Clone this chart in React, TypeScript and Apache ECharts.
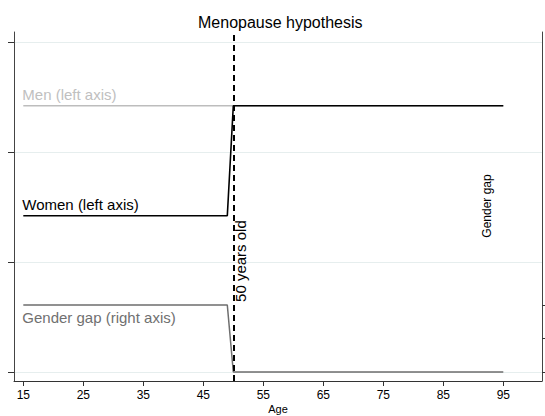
import React, { useEffect, useRef } from "react";
import * as echarts from "echarts";

const xTicks = [15, 25, 35, 45, 55, 65, 75, 85, 95];
const leftTicks = [0, 10, 20, 30];
const rightTicks = [0, 5, 10];

const womenAge = [15, 49, 50, 95];
const womenVal = [14.2, 14.2, 24.2, 24.2];
const menAge = [15, 95];
const menVal = [24.2, 24.2];
const gapAge = [15, 49, 50, 95];
const gapVal = [10, 10, 0, 0];

const cutoffAge = 50;

const FONT = "Liberation Sans, Arial, Helvetica, sans-serif";

const zip = (xs: number[], ys: number[]) => xs.map((x, i) => [x, ys[i]]);

export default function App() {
  const ref = useRef<HTMLDivElement>(null);
  useEffect(() => {
    if (!ref.current) return;
    const chart = echarts.init(ref.current, undefined, { renderer: "svg" });
    chart.setOption({
      animation: false,
      textStyle: { fontFamily: FONT },
      title: {
        text: "Menopause hypothesis",
        left: 193,
        top: 9,
        textStyle: { fontSize: 16, fontWeight: "normal", color: "#000", fontFamily: FONT },
      },
      grid: { left: 14, right: 3, top: 32, bottom: 35, containLabel: false, outerBoundsMode: "none" },
      xAxis: {
        type: "value",
        min: 13.45,
        max: 101.45,
        name: "Age",
        nameLocation: "middle",
        nameGap: 22,
        nameMoveOverlap: false,
        nameTextStyle: { fontSize: 11, color: "#000", fontFamily: FONT, lineHeight: 11, verticalAlign: "top" },
        axisLine: { show: true, onZero: false, lineStyle: { color: "#333", width: 1 } },
        axisTick: { show: true, length: 5, customValues: xTicks, lineStyle: { color: "#333" } },
        axisLabel: { show: true, customValues: xTicks, fontSize: 12, color: "#000", margin: 8, fontFamily: FONT },
        splitLine: { show: false },
      },
      yAxis: [
        {
          type: "value",
          position: "left",
          min: -0.82,
          max: 30.9,
          axisLine: { show: true, onZero: false, lineStyle: { color: "#444", width: 1 } },
          axisTick: { show: true, length: 6, customValues: leftTicks, lineStyle: { color: "#333" } },
          axisLabel: { show: false },
          splitLine: { show: true, lineStyle: { color: "#e6eeee", width: 1 } },
        },
        {
          type: "value",
          position: "right",
          min: -1.34,
          max: 50.7,
          axisLine: { show: true, onZero: false, lineStyle: { color: "#444", width: 1 } },
          axisTick: { show: true, length: 5, customValues: rightTicks, lineStyle: { color: "#333" } },
          axisLabel: { show: false },
          splitLine: { show: false },
        },
      ],
      graphic: [
        {
          type: "text",
          x: 487,
          y: 206,
          rotation: Math.PI / 2,
          style: {
            text: "Gender gap",
            fontSize: 12,
            fontFamily: FONT,
            fill: "#000",
            align: "center",
            verticalAlign: "middle",
          },
        },
      ],
      series: [
        {
          name: "Men",
          type: "line",
          yAxisIndex: 0,
          data: zip(menAge, menVal),
          showSymbol: false,
          symbol: "none",
          lineStyle: { color: "#bdbdbd", width: 1.5 },
          z: 2,
          markPoint: {
            symbol: "circle",
            symbolSize: 0,
            silent: true,
            data: [{ coord: [menAge[0], menVal[0]] }],
            label: {
              show: true,
              formatter: "Men (left axis)",
              position: "inside",
              align: "left",
              verticalAlign: "bottom",
              offset: [-1, -4],
              fontSize: 15,
              color: "#c0c0c0",
              fontFamily: FONT,
            },
          },
        },
        {
          name: "Gender gap",
          type: "line",
          yAxisIndex: 1,
          data: zip(gapAge, gapVal),
          showSymbol: false,
          symbol: "none",
          lineStyle: { color: "#6e6e6e", width: 1.5 },
          z: 3,
          markPoint: {
            symbol: "circle",
            symbolSize: 0,
            silent: true,
            data: [
              {
                coord: [gapAge[0], gapVal[0]],
                label: {
                  show: true,
                  formatter: "Gender gap (right axis)",
                  position: "inside",
                  align: "left",
                  verticalAlign: "top",
                  offset: [-1, 5],
                  fontSize: 15,
                  color: "#707070",
                  fontFamily: FONT,
                },
              },
              {
                coord: [cutoffAge, gapVal[0]],
                label: {
                  show: true,
                  formatter: "50 years old",
                  position: "inside",
                  rotate: 90,
                  align: "left",
                  verticalAlign: "top",
                  offset: [3, 0],
                  fontSize: 15,
                  color: "#000",
                  fontFamily: FONT,
                },
              },
            ],
          },
        },
        {
          name: "Women",
          type: "line",
          yAxisIndex: 0,
          data: zip(womenAge, womenVal),
          showSymbol: false,
          symbol: "none",
          lineStyle: { color: "#000", width: 1.6 },
          z: 4,
          markPoint: {
            symbol: "circle",
            symbolSize: 0,
            silent: true,
            data: [{ coord: [womenAge[0], womenVal[0]] }],
            label: {
              show: true,
              formatter: "Women (left axis)",
              position: "inside",
              align: "left",
              verticalAlign: "bottom",
              offset: [-1, -4],
              fontSize: 15,
              color: "#000",
              fontFamily: FONT,
            },
          },
          markLine: {
            silent: true,
            symbol: "none",
            label: { show: false },
            lineStyle: { color: "#000", width: 2, type: [6, 4] },
            data: [{ xAxis: cutoffAge }],
          },
        },
      ],
    });
    return () => chart.dispose();
  }, []);
  return <div ref={ref} style={{ width: 545, height: 416, position: "absolute", left: 0, top: 0 }} />;
}
